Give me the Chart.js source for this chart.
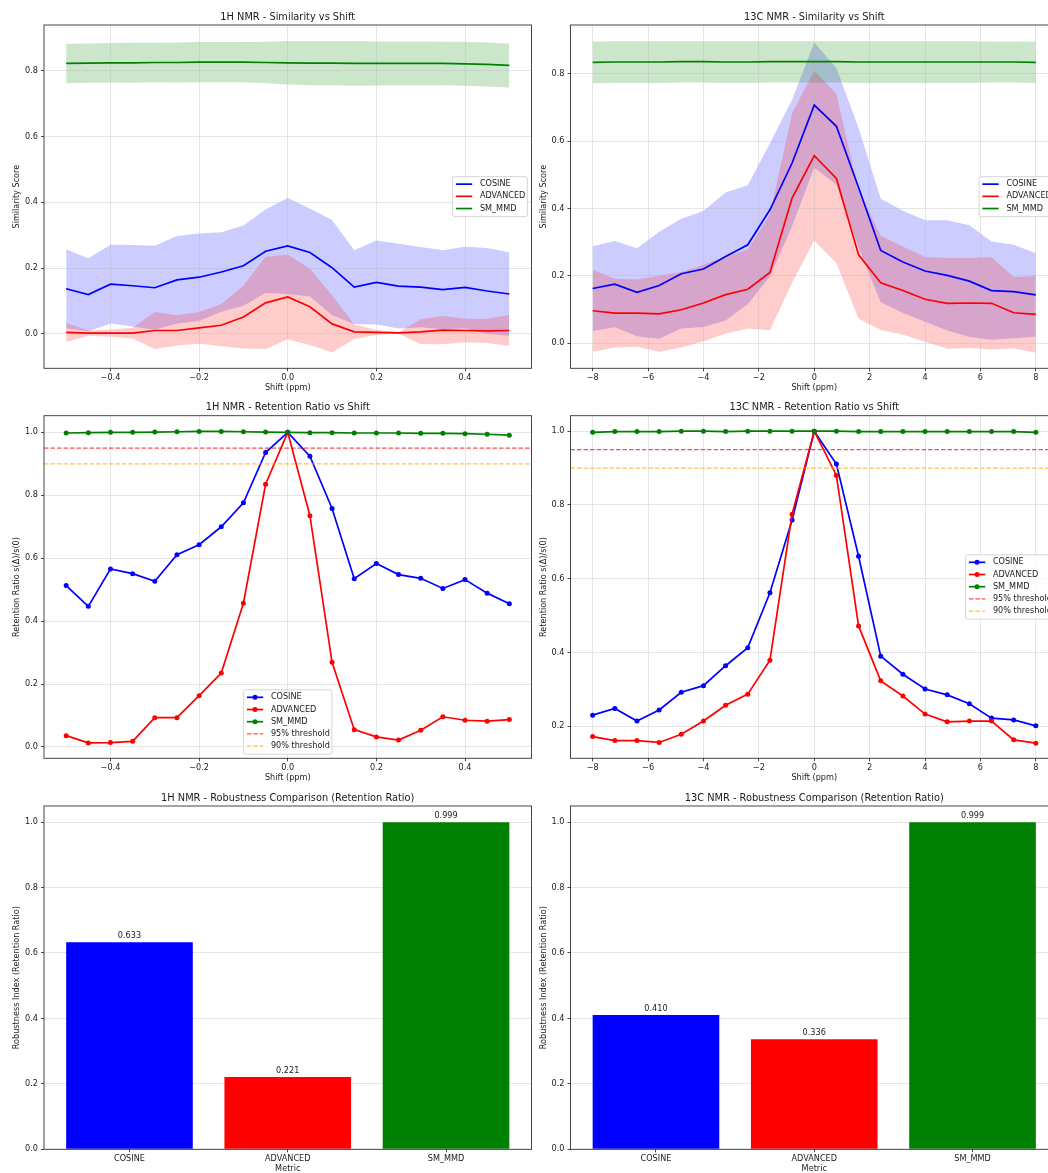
<!DOCTYPE html>
<html><head><meta charset="utf-8">
<script src="https://cdn.jsdelivr.net/npm/chart.js@4.4.1/dist/chart.umd.min.js"></script>
<style>
html,body{margin:0;padding:0;background:#fff;overflow:hidden;width:1048px;height:1173px;}
canvas{position:absolute;}
</style></head><body>
<canvas id="c11" width="540" height="395" style="left:0px;top:0px"></canvas>
<canvas id="c12" width="545" height="395" style="left:528px;top:0px"></canvas>
<canvas id="c21" width="540" height="390" style="left:0px;top:395px"></canvas>
<canvas id="c22" width="545" height="390" style="left:528px;top:395px"></canvas>
<canvas id="c31" width="540" height="395" style="left:0px;top:785px"></canvas>
<canvas id="c32" width="545" height="395" style="left:528px;top:785px"></canvas>
<script>
// ---------------- DATA ----------------
const metrics = ['COSINE', 'ADVANCED', 'SM_MMD'];
const shift1H = [-0.5,-0.45,-0.4,-0.35,-0.3,-0.25,-0.2,-0.15,-0.1,-0.05,0,0.05,0.1,0.15,0.2,0.25,0.3,0.35,0.4,0.45,0.5];
const shift13C = [-8,-7.2,-6.4,-5.6,-4.8,-4,-3.2,-2.4,-1.6,-0.8,0,0.8,1.6,2.4,3.2,4,4.8,5.6,6.4,7.2,8];

// 1H similarity (mean, mean+std, mean-std)
const sim1H_cos_mean  = [0.137,0.119,0.151,0.146,0.140,0.164,0.172,0.188,0.207,0.251,0.267,0.247,0.201,0.142,0.156,0.145,0.142,0.134,0.141,0.130,0.121];
const sim1H_cos_upper = [0.257,0.230,0.271,0.270,0.268,0.297,0.305,0.309,0.329,0.378,0.413,0.381,0.346,0.254,0.284,0.274,0.264,0.254,0.265,0.261,0.248];
const sim1H_cos_lower = [0.017,0.008,0.031,0.022,0.012,0.031,0.039,0.067,0.085,0.124,0.121,0.113,0.056,0.030,0.028,0.016,0.020,0.014,0.017,-0.001,-0.006];
const sim1H_adv_mean  = [0.004,0.002,0.002,0.002,0.010,0.010,0.018,0.026,0.051,0.094,0.112,0.082,0.030,0.006,0.004,0.003,0.006,0.011,0.010,0.009,0.010];
const sim1H_adv_upper = [0.033,0.010,0.013,0.018,0.066,0.056,0.066,0.090,0.147,0.234,0.241,0.198,0.117,0.028,0.012,0.005,0.044,0.054,0.046,0.046,0.057];
const sim1H_adv_lower = [-0.025,-0.006,-0.009,-0.014,-0.046,-0.036,-0.030,-0.038,-0.045,-0.046,-0.017,-0.034,-0.057,-0.016,-0.004,0.001,-0.032,-0.032,-0.026,-0.028,-0.037];
const sim1H_sm_mean   = [0.822,0.823,0.824,0.824,0.825,0.825,0.826,0.826,0.826,0.825,0.824,0.823,0.823,0.822,0.822,0.822,0.822,0.822,0.821,0.819,0.816];
const sim1H_sm_upper  = [0.882,0.883,0.884,0.885,0.885,0.886,0.887,0.887,0.887,0.888,0.890,0.890,0.890,0.890,0.889,0.889,0.889,0.888,0.888,0.886,0.883];
const sim1H_sm_lower  = [0.762,0.763,0.764,0.763,0.765,0.764,0.765,0.765,0.765,0.762,0.758,0.756,0.756,0.754,0.755,0.755,0.755,0.756,0.754,0.752,0.749];

// 13C similarity
const sim13C_cos_mean  = [0.162,0.175,0.151,0.171,0.206,0.220,0.257,0.292,0.396,0.535,0.707,0.644,0.462,0.275,0.241,0.214,0.201,0.184,0.156,0.153,0.143];
const sim13C_cos_upper = [0.288,0.303,0.282,0.331,0.369,0.392,0.447,0.469,0.594,0.723,0.893,0.817,0.639,0.429,0.393,0.365,0.365,0.350,0.302,0.292,0.267];
const sim13C_cos_lower = [0.036,0.047,0.020,0.013,0.043,0.048,0.067,0.115,0.198,0.347,0.521,0.471,0.285,0.121,0.089,0.063,0.037,0.018,0.010,0.014,0.019];
const sim13C_adv_mean  = [0.096,0.089,0.089,0.087,0.099,0.119,0.144,0.160,0.210,0.431,0.557,0.489,0.262,0.179,0.156,0.130,0.118,0.119,0.118,0.090,0.085];
const sim13C_adv_upper = [0.218,0.191,0.189,0.200,0.211,0.233,0.257,0.277,0.382,0.683,0.809,0.741,0.452,0.319,0.287,0.256,0.253,0.253,0.255,0.196,0.199];
const sim13C_adv_lower = [-0.026,-0.013,-0.011,-0.026,-0.013,0.005,0.028,0.043,0.038,0.179,0.305,0.237,0.072,0.039,0.025,0.004,-0.017,-0.015,-0.019,-0.016,-0.029];
const sim13C_sm_mean   = [0.834,0.835,0.835,0.835,0.836,0.836,0.835,0.835,0.836,0.836,0.836,0.836,0.835,0.835,0.835,0.835,0.835,0.835,0.835,0.835,0.834];
const sim13C_sm_upper  = [0.896,0.897,0.897,0.897,0.897,0.897,0.897,0.897,0.897,0.897,0.897,0.897,0.897,0.897,0.897,0.897,0.897,0.897,0.896,0.896,0.895];
const sim13C_sm_lower  = [0.772,0.773,0.773,0.773,0.774,0.774,0.773,0.773,0.774,0.774,0.774,0.774,0.773,0.773,0.773,0.773,0.773,0.773,0.774,0.774,0.773];

// Retention ratios s(Δ)/s(0)
const ret1H_cos  = [0.513,0.447,0.566,0.551,0.527,0.611,0.643,0.700,0.776,0.936,1.000,0.924,0.758,0.535,0.583,0.548,0.536,0.504,0.532,0.489,0.455];
const ret1H_adv  = [0.036,0.013,0.014,0.018,0.093,0.093,0.163,0.235,0.457,0.835,1.000,0.735,0.269,0.055,0.032,0.022,0.053,0.096,0.085,0.082,0.087];
const ret1H_sm   = [0.998,0.999,1.000,1.000,1.001,1.002,1.003,1.003,1.002,1.001,1.000,0.999,0.999,0.998,0.998,0.998,0.997,0.997,0.996,0.994,0.991];
const ret13C_cos = [0.230,0.248,0.214,0.244,0.292,0.310,0.364,0.413,0.562,0.759,1.000,0.911,0.661,0.390,0.341,0.301,0.285,0.261,0.222,0.217,0.201];
const ret13C_adv = [0.172,0.161,0.161,0.156,0.178,0.214,0.257,0.287,0.379,0.775,1.000,0.880,0.472,0.323,0.282,0.233,0.212,0.214,0.214,0.163,0.154];
const ret13C_sm  = [0.997,0.999,0.999,0.999,1.000,1.000,0.999,1.000,1.000,1.000,1.000,1.000,0.999,0.999,0.999,0.999,0.999,0.999,0.999,0.999,0.997];
const thresholds = [0.95, 0.90];
const thresholdLabels = ['95% threshold', '90% threshold'];

// Robustness index (mean retention ratio)
const rob1H  = [0.633, 0.221, 0.999];
const rob13C = [0.410, 0.336, 0.999];

// Tick values
const xTicks1H  = [-0.4,-0.2,0,0.2,0.4];
const xTicks13C = [-8,-6,-4,-2,0,2,4,6,8];
const yTicksSim = [0,0.2,0.4,0.6,0.8];
const yTicksRet1H = [0,0.2,0.4,0.6,0.8,1.0];
const yTicksRet13C = [0.2,0.4,0.6,0.8,1.0];
const yTicksBar = [0,0.2,0.4,0.6,0.8,1.0];
const barTicks = [0,1,2];

// ---------------- STYLE / LAYOUT ----------------
const FS = 8.15, TFS = 9.8;
const TXT = '#1a1a1a', GRID = 'rgba(176,176,176,0.32)', SPINE = '#333333';
const C_BLUE = '#0000ff', C_RED = '#ff0000', C_GREEN = '#008000';
Chart.defaults.font.family = '"DejaVu Sans", sans-serif';
Chart.defaults.color = TXT;
Chart.defaults.animation = false;

const COL = {
  L: {yW: 44, yTitlePad: 12.1, padRight: 8.5},
  R: {yW: 42.5, yTitlePad: 11.1, padRight: 15}
};
const ROW = [
  {tTop: 11.12, tBot: 2.12, xH: 26.7, xTitlePad: 1.8},
  {tTop: 6.62, tBot: 2.32, xH: 26.7, xTitlePad: 1.8},
  {tTop: 7.42, tBot: 1.82, xH: 30.7, xTitlePad: 5.81}
];
const minus = v => (v < 0 ? '\u2212' : '');
const fmt1 = v => minus(v) + Math.abs(v).toFixed(1);
const fmt0 = v => minus(v) + Math.abs(v).toFixed(0);

function xAxis(min, max, ticks, fmt, title, row, gridOn) {
  return {
    type: 'linear', min, max, bounds: 'data', offset: false,
    afterBuildTicks: s => { s.ticks = ticks.map(v => ({value: v})); },
    afterFit: s => { s.height = row.xH; },
    ticks: {callback: v => fmt(v), font: {size: FS}, color: TXT, padding: 2.1, maxRotation: 0, minRotation: 0, autoSkip: false},
    grid: {display: true, offset: false, drawOnChartArea: gridOn, color: GRID, lineWidth: 1, drawTicks: true, tickLength: 3, tickColor: SPINE, tickWidth: 0.9},
    border: {display: false},
    title: {display: true, text: title, font: {size: FS}, color: TXT, padding: {top: 0, bottom: row.xTitlePad}}
  };
}
function yAxis(min, max, ticks, title, col) {
  return {
    type: 'linear', min, max, bounds: 'data',
    afterBuildTicks: s => { s.ticks = ticks.map(v => ({value: v})); },
    afterFit: s => { s.width = col.yW; },
    ticks: {callback: v => fmt1(v), font: {size: FS}, color: TXT, padding: 3, autoSkip: false},
    grid: {display: true, color: GRID, lineWidth: 1, drawTicks: true, tickLength: 3, tickColor: SPINE, tickWidth: 0.9},
    border: {display: false},
    title: {display: true, text: title, font: {size: FS}, color: TXT, padding: {top: col.yTitlePad, bottom: 0}}
  };
}
function framePlugin() {
  return {id: 'frame', afterDatasetsDraw(chart) {
    const {ctx, chartArea: a} = chart;
    ctx.save(); ctx.strokeStyle = SPINE; ctx.lineWidth = 0.9;
    ctx.strokeRect(a.left, a.top, a.right - a.left, a.bottom - a.top);
    ctx.restore();
  }};
}
function legendPlugin(items, loc) {
  return {id: 'mplLegend', afterDraw(chart) {
    const {ctx, chartArea: a} = chart;
    ctx.save();
    ctx.font = FS + 'px "DejaVu Sans"';
    const maxW = Math.max(...items.map(it => ctx.measureText(it.label).width));
    const w = 3.3 + 16.3 + 6.5 + maxW + 3.3;
    const step = 12.2, n = items.length;
    const h = (n - 1) * step + 15.6;
    let x, y;
    if (loc === 'center right') { x = a.right - 4.1 - w; y = (a.top + a.bottom) / 2 - h / 2; }
    else { x = (a.left + a.right) / 2 - w / 2; y = a.bottom - 4.1 - h; }
    ctx.beginPath();
    ctx.roundRect(x, y, w, h, 2);
    ctx.fillStyle = 'rgba(255,255,255,0.8)'; ctx.fill();
    ctx.strokeStyle = '#cccccc'; ctx.lineWidth = 0.8; ctx.stroke();
    items.forEach((it, i) => {
      const cy = y + 7.5 + i * step;
      ctx.beginPath();
      ctx.strokeStyle = it.color; ctx.lineWidth = it.lw;
      ctx.setLineDash(it.dash || []);
      ctx.moveTo(x + 3.3, cy); ctx.lineTo(x + 19.6, cy); ctx.stroke();
      ctx.setLineDash([]);
      if (it.marker) {
        ctx.beginPath(); ctx.fillStyle = it.color;
        ctx.arc(x + 11.45, cy, 2.5, 0, Math.PI * 2); ctx.fill();
      }
      ctx.fillStyle = TXT; ctx.textBaseline = 'middle'; ctx.textAlign = 'left';
      ctx.fillText(it.label, x + 27.3, cy);
    });
    ctx.restore();
  }};
}
function barLabelPlugin(values) {
  return {id: 'barLabels', afterDatasetsDraw(chart) {
    const {ctx} = chart;
    const meta = chart.getDatasetMeta(0);
    const ys = chart.scales.y;
    ctx.save();
    ctx.font = FS + 'px "DejaVu Sans"'; ctx.fillStyle = TXT;
    ctx.textAlign = 'center'; ctx.textBaseline = 'bottom';
    meta.data.forEach((bar, i) => {
      ctx.fillText(values[i].toFixed(3), bar.x, ys.getPixelForValue(values[i] + 0.01) + 1);
    });
    ctx.restore();
  }};
}
function titleOpt(text, row) {
  return {display: true, text, fullSize: false, font: {size: TFS, weight: 'normal'}, color: TXT, padding: {top: row.tTop, bottom: row.tBot}};
}
const pts = (xs, arr) => arr.map((v, i) => ({x: xs[i], y: v}));

function simChart(id, col, row, title, xs, xr, xt, xfmt, yr, cos, adv, sm) {
  const band = (up, lo, rgb, ord) => [
    {data: pts(xs, up), borderWidth: 0, borderColor: 'transparent', pointRadius: 0, fill: '+1', backgroundColor: 'rgba(' + rgb + ',0.2)', order: ord},
    {data: pts(xs, lo), borderWidth: 0, borderColor: 'transparent', pointRadius: 0, fill: false, order: ord}
  ];
  const line = (m, c, ord) => ({data: pts(xs, m), borderColor: c, backgroundColor: c, borderWidth: 1.7, pointRadius: 0, fill: false, order: ord});
  const datasets = [
    ...band(cos[1], cos[2], '0,0,255', 5),
    ...band(adv[1], adv[2], '255,0,0', 4),
    ...band(sm[1], sm[2], '0,128,0', 3),
    line(cos[0], C_BLUE, 2), line(adv[0], C_RED, 1), line(sm[0], C_GREEN, 0)
  ];
  return new Chart(document.getElementById(id), {
    type: 'line',
    data: {datasets},
    options: {
      responsive: false, devicePixelRatio: 1, events: [],
      layout: {padding: {left: 0, right: col.padRight, top: 0, bottom: 0}},
      scales: {x: xAxis(xr[0], xr[1], xt, xfmt, 'Shift (ppm)', row, true), y: yAxis(yr[0], yr[1], yTicksSim, 'Similarity Score', col)},
      plugins: {legend: {display: false}, tooltip: {enabled: false}, filler: {drawTime: 'beforeDraw'}, title: titleOpt(title, row)}
    },
    plugins: [framePlugin(), legendPlugin([
      {label: metrics[0], color: C_BLUE, lw: 1.7},
      {label: metrics[1], color: C_RED, lw: 1.7},
      {label: metrics[2], color: C_GREEN, lw: 1.7}
    ], 'center right')]
  });
}

function retChart(id, col, row, title, xs, xr, xt, xfmt, yr, yt, cos, adv, sm, loc) {
  const line = (m, c, ord) => ({data: pts(xs, m), borderColor: c, backgroundColor: c, pointBackgroundColor: c, borderWidth: 1.7, pointRadius: 2.5, pointBorderWidth: 0, fill: false, order: ord});
  const thr = (v, c) => ({data: [{x: xr[0], y: v}, {x: xr[1], y: v}], borderColor: c, borderWidth: 1.2, borderDash: [4.5, 2], pointRadius: 0, fill: false, order: 0});
  const datasets = [
    line(cos, C_BLUE, 3), line(adv, C_RED, 2), line(sm, C_GREEN, 1),
    thr(thresholds[0], 'rgba(255,0,0,0.7)'), thr(thresholds[1], 'rgba(255,165,0,0.7)')
  ];
  return new Chart(document.getElementById(id), {
    type: 'line',
    data: {datasets},
    options: {
      responsive: false, devicePixelRatio: 1, events: [],
      layout: {padding: {left: 0, right: col.padRight, top: 0, bottom: 0}},
      scales: {x: xAxis(xr[0], xr[1], xt, xfmt, 'Shift (ppm)', row, true), y: yAxis(yr[0], yr[1], yt, 'Retention Ratio s(\u0394)/s(0)', col)},
      plugins: {legend: {display: false}, tooltip: {enabled: false}, title: titleOpt(title, row)}
    },
    plugins: [framePlugin(), legendPlugin([
      {label: metrics[0], color: C_BLUE, lw: 1.7, marker: true},
      {label: metrics[1], color: C_RED, lw: 1.7, marker: true},
      {label: metrics[2], color: C_GREEN, lw: 1.7, marker: true},
      {label: thresholdLabels[0], color: 'rgba(255,0,0,0.7)', lw: 1.2, dash: [4.5, 2]},
      {label: thresholdLabels[1], color: 'rgba(255,165,0,0.7)', lw: 1.2, dash: [4.5, 2]}
    ], loc)]
  });
}

function barChart(id, col, row, title, vals) {
  return new Chart(document.getElementById(id), {
    type: 'bar',
    data: {datasets: [{
      data: vals.map((v, i) => ({x: barTicks[i], y: v})),
      backgroundColor: [C_BLUE, C_RED, C_GREEN],
      borderWidth: 0, barPercentage: 0.8, categoryPercentage: 1.0
    }]},
    options: {
      responsive: false, devicePixelRatio: 1, events: [],
      layout: {padding: {left: 0, right: col.padRight, top: 0, bottom: 0}},
      scales: {
        x: xAxis(-0.54, 2.54, barTicks, v => metrics[v], 'Metric', row, false),
        y: yAxis(0, 1.049, yTicksBar, 'Robustness Index (Retention Ratio)', col)
      },
      plugins: {legend: {display: false}, tooltip: {enabled: false}, title: titleOpt(title, row)}
    },
    plugins: [framePlugin(), barLabelPlugin(vals)]
  });
}

simChart('c11', COL.L, ROW[0], '1H NMR - Similarity vs Shift', shift1H, [-0.55, 0.55], xTicks1H, fmt1, [-0.105, 0.939],
  [sim1H_cos_mean, sim1H_cos_upper, sim1H_cos_lower], [sim1H_adv_mean, sim1H_adv_upper, sim1H_adv_lower], [sim1H_sm_mean, sim1H_sm_upper, sim1H_sm_lower]);
simChart('c12', COL.R, ROW[0], '13C NMR - Similarity vs Shift', shift13C, [-8.8, 8.8], xTicks13C, fmt0, [-0.075, 0.945],
  [sim13C_cos_mean, sim13C_cos_upper, sim13C_cos_lower], [sim13C_adv_mean, sim13C_adv_upper, sim13C_adv_lower], [sim13C_sm_mean, sim13C_sm_upper, sim13C_sm_lower]);
retChart('c21', COL.L, ROW[1], '1H NMR - Retention Ratio vs Shift', shift1H, [-0.55, 0.55], xTicks1H, fmt1, [-0.036, 1.053], yTicksRet1H,
  ret1H_cos, ret1H_adv, ret1H_sm, 'lower center');
retChart('c22', COL.R, ROW[1], '13C NMR - Retention Ratio vs Shift', shift13C, [-8.8, 8.8], xTicks13C, fmt0, [0.113, 1.042], yTicksRet13C,
  ret13C_cos, ret13C_adv, ret13C_sm, 'center right');
barChart('c31', COL.L, ROW[2], '1H NMR - Robustness Comparison (Retention Ratio)', rob1H);
barChart('c32', COL.R, ROW[2], '13C NMR - Robustness Comparison (Retention Ratio)', rob13C);
</script>
</body></html>
